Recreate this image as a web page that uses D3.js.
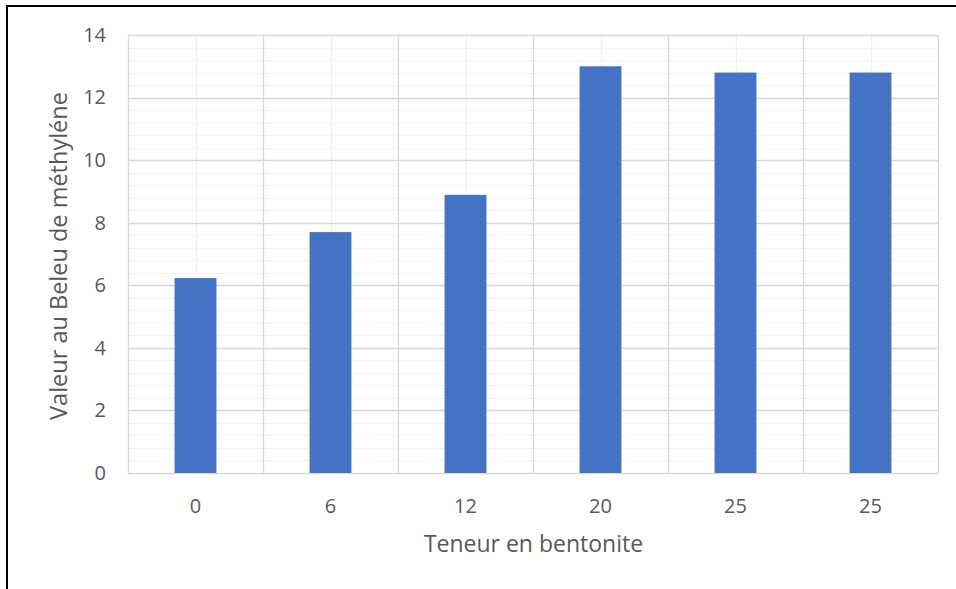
<!DOCTYPE html>
<html>
<head>
<meta charset="utf-8">
<script src="https://cdn.jsdelivr.net/npm/d3@7"></script>
<style>
  html, body { margin: 0; padding: 0; background: #fff; }
  svg { display: block; }
</style>
</head>
<body>
<svg id="chart" width="956" height="589"></svg>
<script>
const categories = ["0", "6", "12", "20", "25", "25 "];
const categoryLabels = ["0", "6", "12", "20", "25", "25"];
const values = [6.23, 7.7, 8.89, 13.0, 12.8, 12.8];
const yTicks = [0, 2, 4, 6, 8, 10, 12, 14];
const xTitle = "Teneur en bentonite";
const yTitle = "Valeur au Beleu de méthyléne";

const W = 956, H = 589;
const plot = { left: 128, right: 938, top: 35, bottom: 473 };
const font = "'Open Sans', sans-serif";
const textColor = "#595959";

const svg = d3.select("#chart");

// outer frame (top + left edges visible)
svg.append("line").attr("x1", 7).attr("x2", W).attr("y1", 6).attr("y2", 6)
  .attr("stroke", "#000").attr("stroke-width", 2);
svg.append("line").attr("x1", 7).attr("x2", 7).attr("y1", 5).attr("y2", H)
  .attr("stroke", "#000").attr("stroke-width", 2);

const y = d3.scaleLinear().domain([0, 14]).range([plot.bottom, plot.top]);
const xCat = d3.scaleBand().domain(categories).range([plot.left, plot.right]).padding(0);
const xBar = d3.scaleBand().domain(categories).range([plot.left, plot.right])
  .paddingInner(0.69).paddingOuter(0.345);

const grid = svg.append("g");
// minor horizontal gridlines every 0.4
const minorY = d3.range(0, 14.0001, 0.4).filter(v => Math.abs(v / 2 - Math.round(v / 2)) > 1e-6);
grid.selectAll(".hminor").data(minorY).enter().append("line")
  .attr("x1", plot.left).attr("x2", plot.right)
  .attr("y1", d => Math.round(y(d)) + 0.5).attr("y2", d => Math.round(y(d)) + 0.5)
  .attr("stroke", "#f0f0f0").attr("stroke-width", 1.2);
// minor vertical gridlines at category centres
grid.selectAll(".vminor").data(categories).enter().append("line")
  .attr("x1", d => Math.round(xCat(d) + xCat.bandwidth() / 2) + 0.5)
  .attr("x2", d => Math.round(xCat(d) + xCat.bandwidth() / 2) + 0.5)
  .attr("y1", plot.top).attr("y2", plot.bottom)
  .attr("stroke", "#f0f0f0").attr("stroke-width", 1.2);
// major horizontal gridlines
grid.selectAll(".hmajor").data(yTicks).enter().append("line")
  .attr("x1", plot.left).attr("x2", plot.right)
  .attr("y1", d => Math.round(y(d)) + 0.5).attr("y2", d => Math.round(y(d)) + 0.5)
  .attr("stroke", "#d9d9d9").attr("stroke-width", 1.3);
// major vertical gridlines at category boundaries
const bounds = categories.map(c => xCat(c)).concat([plot.right]);
grid.selectAll(".vmajor").data(bounds).enter().append("line")
  .attr("x1", d => Math.round(d) + 0.5).attr("x2", d => Math.round(d) + 0.5)
  .attr("y1", plot.top).attr("y2", plot.bottom)
  .attr("stroke", "#d9d9d9").attr("stroke-width", 1.3);

// bars
svg.append("g").selectAll("rect").data(values).enter().append("rect")
  .attr("x", (d, i) => xBar(categories[i]))
  .attr("width", xBar.bandwidth())
  .attr("y", d => y(d))
  .attr("height", d => y(0) - y(d))
  .attr("fill", "#4472C4");

// y axis labels
const yAxis = d3.axisLeft(y).tickValues(yTicks).tickSize(0).tickPadding(0).tickFormat(d3.format("d"));
const gy = svg.append("g").attr("transform", `translate(${plot.left - 22},0)`).call(yAxis);
gy.select(".domain").remove();
gy.selectAll("text").attr("fill", textColor).style("font-family", font).style("font-size", "20px");

// x axis labels
const xAxis = d3.axisBottom(xCat).tickSize(0).tickPadding(0).tickFormat((d, i) => categoryLabels[i]);
const gx = svg.append("g").attr("transform", `translate(0,${plot.bottom + 26})`).call(xAxis);
gx.select(".domain").remove();
gx.selectAll("text").attr("fill", textColor).style("font-family", font).style("font-size", "20px");

// axis titles
svg.append("text").attr("x", (plot.left + plot.right) / 2 + 0.5).attr("y", 552)
  .attr("text-anchor", "middle").attr("fill", textColor)
  .style("font-family", font).style("font-size", "23px").text(xTitle);
svg.append("text")
  .attr("transform", `translate(67,${(plot.top + plot.bottom) / 2 + 2}) rotate(-90)`)
  .attr("text-anchor", "middle").attr("fill", textColor)
  .style("font-family", font).style("font-size", "23.5px").text(yTitle);
</script>
</body>
</html>
